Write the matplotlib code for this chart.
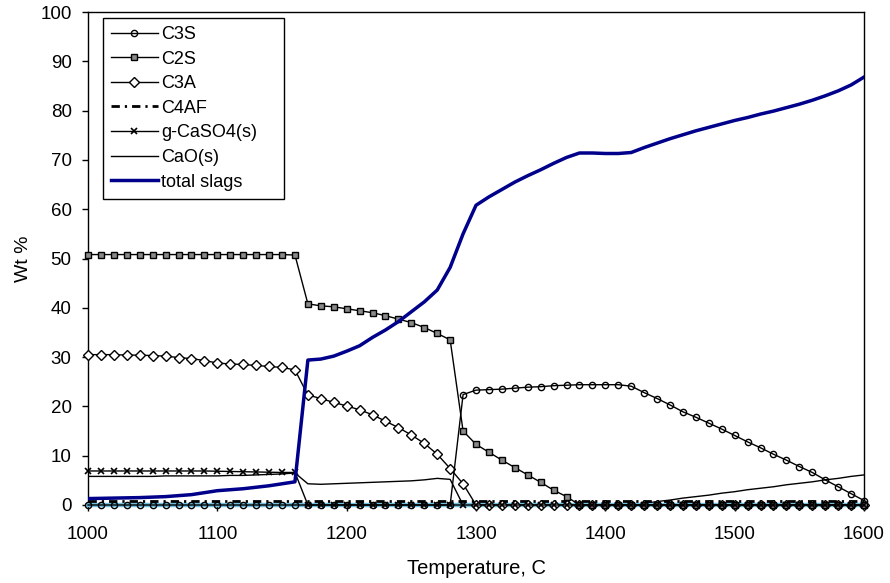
import numpy as np
import matplotlib
matplotlib.use("Agg")
import matplotlib.pyplot as plt

plt.rcParams["font.family"] = ["Liberation Sans", "DejaVu Sans"]

#  Data (wt % vs temperature, one value every 10 C)
# ***************************************************
temp = list(range(1000, 1601, 10))

c3s = [0.0] * 29 + [22.4, 23.3, 23.4, 23.5, 23.7, 23.9, 24.0, 24.2, 24.3, 24.4,
                    24.4, 24.4, 24.4, 24.1, 22.8, 21.6, 20.3, 18.9, 17.8, 16.6,
                    15.4, 14.1, 12.8, 11.6, 10.3, 9.1, 7.8, 6.6, 5.1, 3.7,
                    2.3, 0.9]

c2s = [50.8] * 16 + [50.7, 40.8, 40.4, 40.2, 39.8, 39.4, 39.0, 38.4, 37.7, 37.0,
                     36.0, 34.8, 33.5, 15.0, 12.3, 10.7, 9.1, 7.6, 6.1, 4.6,
                     3.0, 1.7] + [0.0] * 23

c3a = [30.5, 30.5, 30.5, 30.4, 30.4, 30.3, 30.2, 29.9, 29.7, 29.3,
       28.8, 28.6, 28.5, 28.3, 28.1, 27.9, 27.4, 22.3, 21.6, 20.8,
       20.1, 19.3, 18.3, 17.0, 15.7, 14.2, 12.5, 10.3, 7.4, 4.3] + [0.0] * 31

c4af = [0.8] * 61

caso4 = [6.9] * 10 + [6.85, 6.8, 6.75, 6.7, 6.65, 6.6, 6.6] + [0.0] * 44

cao = [5.8, 5.8, 5.8, 5.8, 5.8, 5.8, 5.9, 5.9, 5.9, 5.9,
       5.9, 6.0, 6.0, 6.1, 6.2, 6.3, 6.5, 4.3, 4.2, 4.3,
       4.4, 4.5, 4.6, 4.7, 4.8, 4.9, 5.1, 5.4, 5.2, 0.0] + [0.0] * 13 + \
      [0.3, 0.7, 1.0, 1.4, 1.7, 2.0, 2.4, 2.7, 3.1, 3.4,
       3.7, 4.1, 4.4, 4.7, 5.1, 5.4, 5.8, 6.1]

slags = [1.3, 1.35, 1.4, 1.45, 1.5, 1.6, 1.7, 1.9, 2.1, 2.5,
         2.9, 3.1, 3.3, 3.6, 3.9, 4.3, 4.7, 29.4, 29.6, 30.2,
         31.2, 32.3, 34.0, 35.5, 37.2, 39.2, 41.2, 43.6, 48.2, 55.0,
         60.8, 62.5, 64.0, 65.5, 66.8, 68.0, 69.3, 70.5, 71.4, 71.4,
         71.3, 71.3, 71.5, 72.5, 73.4, 74.3, 75.1, 75.9, 76.6, 77.3,
         78.0, 78.6, 79.3, 79.9, 80.6, 81.3, 82.1, 83.0, 84.0, 85.2,
         86.8]

other = [0.0] * 61

#  Plot
# ******
fig = plt.figure(figsize=(8.9, 5.83), dpi=100)
ax = fig.add_axes([0.0989, 0.1338, 0.8719, 0.8456])

ax.plot(temp, other, color="#6fc0e0", lw=3.2, zorder=2.6, clip_on=False)
ax.plot(temp, c4af, color="black", lw=2, ls=(0, (3, 1.8, 0.8, 1.8)),
        label="C4AF", zorder=2.7, clip_on=False)
ax.plot(temp, c3a, color="black", lw=1, marker="D", ms=5.5, mfc="white", mew=1,
        label="C3A", zorder=2.8, clip_on=False)
ax.plot(temp, c3s, color="black", lw=1, marker="o", ms=4.5, mfc="none", mew=1,
        label="C3S", zorder=3, clip_on=False)
ax.plot(temp, c2s, color="black", lw=1, marker="s", ms=3.8, mfc="#8a8a8a", mew=1,
        label="C2S", zorder=3, clip_on=False)
ax.plot(temp, caso4, color="black", lw=1, marker="x", ms=5, mew=1.2,
        label="g-CaSO4(s)", zorder=3, clip_on=False)
ax.plot(temp, cao, color="black", lw=1, label="CaO(s)", zorder=2)
ax.plot(temp, slags, color="#00008b", lw=2.5, label="total slags", zorder=4)

ax.set_xlim(1000, 1600)
ax.set_ylim(0, 100)
ax.set_xticks(range(1000, 1601, 100))
ax.set_yticks(range(0, 101, 10))
ax.tick_params(direction="out", length=4.3, width=1, labelsize=13.5)
ax.tick_params(axis="x", pad=11)
ax.tick_params(axis="y", pad=7.5)
for sp in ax.spines.values():
    sp.set_linewidth(1)
    sp.set_color("black")

ax.set_xlabel("Temperature, C", fontsize=14.5, labelpad=11)
ax.set_ylabel("Wt %", fontsize=14, labelpad=6)

# legend entries in the usual order
handles, labels = ax.get_legend_handles_labels()
order = ["C3S", "C2S", "C3A", "C4AF", "g-CaSO4(s)", "CaO(s)", "total slags"]
handles = [handles[labels.index(n)] for n in order]
leg = ax.legend(handles, order, loc="upper left",
                bbox_to_anchor=(0.019, 0.5, 0.2336, 0.488),
                mode="expand", borderaxespad=0,
                fontsize=13, frameon=True, fancybox=False, framealpha=1,
                edgecolor="black", handlelength=2.6, labelspacing=0.42,
                handletextpad=0.2, borderpad=0.45)
leg.get_frame().set_linewidth(1)

fig.savefig("out.png", dpi=100)
